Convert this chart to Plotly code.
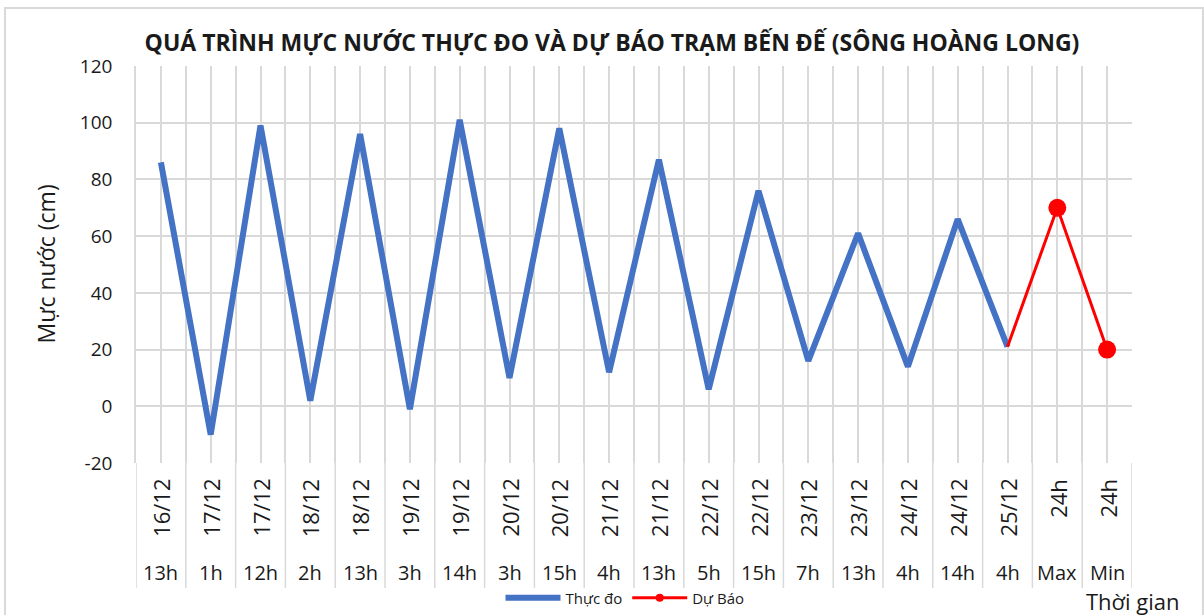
import plotly.graph_objects as go

# ---- data ----
dates = ["16/12", "17/12", "17/12", "18/12", "18/12", "19/12", "19/12", "20/12", "20/12", "21/12",
         "21/12", "22/12", "22/12", "23/12", "23/12", "24/12", "24/12", "25/12", "24h", "24h"]
hours = ["13h", "1h", "12h", "2h", "13h", "3h", "14h", "3h", "15h", "4h",
         "13h", "5h", "15h", "7h", "13h", "4h", "14h", "4h", "Max", "Min"]
thuc_do = [86, -10, 99, 2, 96, -1, 101, 10, 98, 12,
           87, 6, 76, 16, 61, 14, 66, 21, None, None]
du_bao = [None] * 17 + [21, 70, 20]
du_bao_marker = [0] * 17 + [0, 18, 18]
y_ticks = [-20, 0, 20, 40, 60, 80, 100, 120]
y_tick_text = ["-20", "0", "20", "40", "60", "80", "100", "120"]

title = "QUÁ TRÌNH MỰC NƯỚC THỰC ĐO VÀ DỰ BÁO TRẠM BẾN ĐẾ (SÔNG HOÀNG LONG)"
y_title = "Mực nước (cm)"
x_title = "Thời gian"

FONT = "Open Sans"
GRID = "#d9d9d9"
TXT = "#1a1a1a"

# ---- layout geometry (px); the captured page is slightly taller than the picture ----
SY = 626 / 615
W, H = 1204, 626
L, R = 136, 72
TOP_PX, BOT_PX = 65 * SY, 462 * SY
T, B = TOP_PX, H - BOT_PX
PW, PH = W - L - R, BOT_PX - TOP_PX


def px_x(px):
    return (px - L) / PW


def px_y(py):
    return (BOT_PX - py * SY) / PH


idx = list(range(len(dates)))

fig = go.Figure()
fig.add_trace(go.Scatter(
    x=idx, y=thuc_do, mode="lines", name="Thực đo",
    line=dict(color="#4472C4", width=6), connectgaps=False,
))
fig.add_trace(go.Scatter(
    x=idx, y=du_bao, mode="lines+markers", name="Dự Báo", showlegend=False,
    line=dict(color="#FF0000", width=3),
    marker=dict(color="#FF0000", size=du_bao_marker, opacity=1, line=dict(width=0)),
))
# legend entry for the forecast series
fig.add_trace(go.Scatter(
    x=[None], y=[None], mode="lines+markers", name="Dự Báo",
    line=dict(color="#FF0000", width=3),
    marker=dict(color="#FF0000", size=8),
))

annotations = []
shapes = []
for i, (d, h) in enumerate(zip(dates, hours)):
    annotations.append(dict(x=i, y=px_y(476), xref="x", yref="paper", text=d,
                            textangle=-90, showarrow=False, xanchor="center", yanchor="top",
                            font=dict(family=FONT, size=22, color=TXT)))
    annotations.append(dict(x=i, y=px_y(571), xref="x", yref="paper", text=h,
                            showarrow=False, xanchor="center", yanchor="middle",
                            font=dict(family=FONT, size=20, color=TXT)))
for i in range(len(dates) + 1):
    shapes.append(dict(type="line", xref="x", yref="paper", x0=i - 0.5, x1=i - 0.5,
                       y0=0, y1=px_y(587), line=dict(color=GRID, width=1.5)))

annotations.append(dict(x=px_x(45), y=0.5, xref="paper", yref="paper", text=y_title,
                        textangle=-90, showarrow=False, xanchor="center", yanchor="middle",
                        font=dict(family=FONT, size=23, color=TXT)))
annotations.append(dict(x=px_x(1133), y=px_y(600), xref="paper", yref="paper", text=x_title,
                        showarrow=False, xanchor="center", yanchor="middle",
                        font=dict(family=FONT, size=22, color=TXT)))

# outer chart frame
shapes.append(dict(type="rect", xref="paper", yref="paper",
                   x0=px_x(5), x1=px_x(1203), y0=px_y(7), y1=px_y(640),
                   line=dict(color=GRID, width=2), layer="below"))

fig.update_layout(
    width=W, height=H,
    margin=dict(l=L, r=R, t=T, b=B),
    paper_bgcolor="white", plot_bgcolor="white",
    title=dict(text="<b>" + title + "</b>", x=612 / W, xref="container", xanchor="center",
               y=1 - 42 * SY / H, yref="container", yanchor="middle",
               font=dict(family=FONT, size=23, color=TXT)),
    xaxis=dict(range=[-0.5, len(dates) - 0.5], tick0=-0.5, dtick=0.5,
               showticklabels=False, showgrid=True, gridcolor=GRID, gridwidth=1.5,
               zeroline=False, showline=False, ticks=""),
    yaxis=dict(range=[-20, 120], tickmode="array", tickvals=y_ticks, ticktext=y_tick_text,
               showgrid=True, gridcolor=GRID, gridwidth=1.5,
               zeroline=False, showline=True, linecolor=GRID, linewidth=1.5,
               ticks="", ticklabelstandoff=18,
               tickfont=dict(family=FONT, size=19, color=TXT)),
    showlegend=True,
    legend=dict(orientation="h", x=px_x(625), y=px_y(597), xanchor="center", yanchor="middle",
                font=dict(family=FONT, size=15, color=TXT), itemwidth=55,
                bgcolor="rgba(0,0,0,0)"),
    annotations=annotations,
    shapes=shapes,
)

fig.write_html("out.html", config={"displayModeBar": False})

# remove the default page margin so the figure sits at the window's top-left corner
with open("out.html", "r", encoding="utf-8") as f:
    html = f.read()
css = ("<style>html,body{margin:0;padding:0;overflow:hidden;}"
       "body>div{margin:0;padding:0;}</style>")
html = html.replace("<head>", "<head>" + css, 1)
with open("out.html", "w", encoding="utf-8") as f:
    f.write(html)
